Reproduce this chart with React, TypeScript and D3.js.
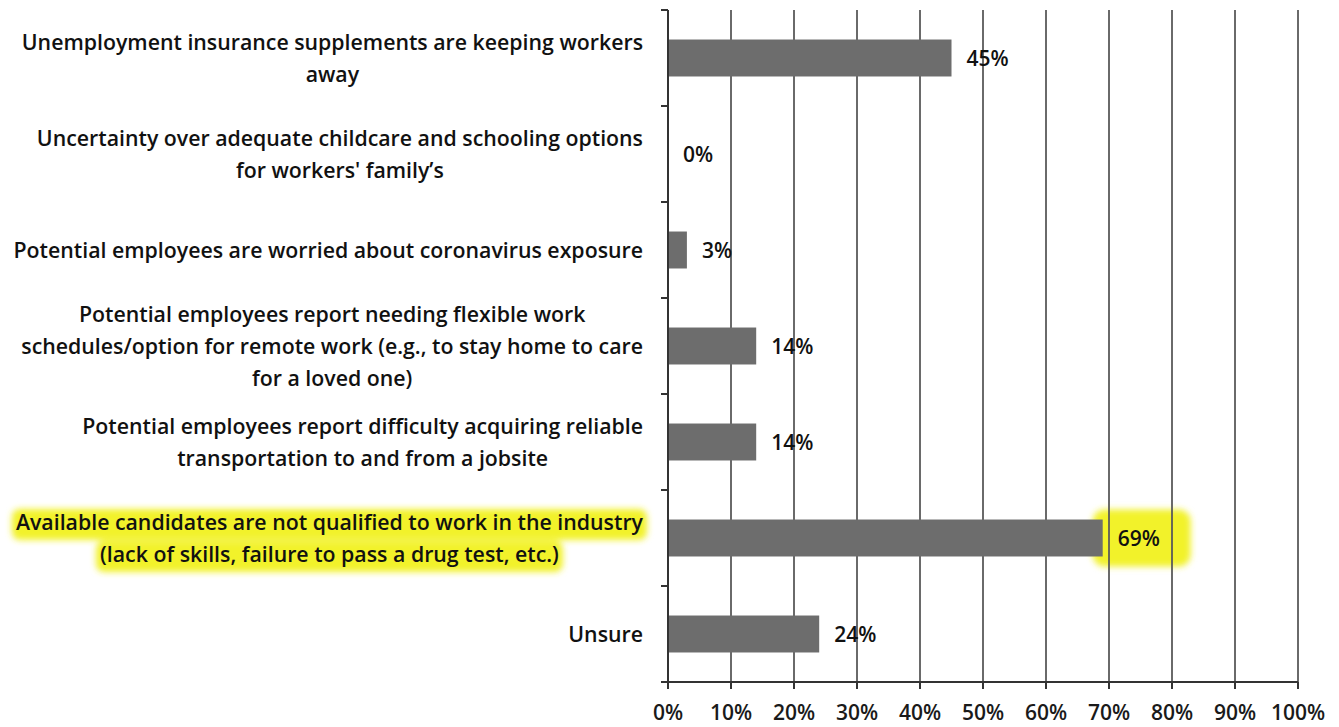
import React, { useMemo } from "react";
import * as d3 from "d3";

const categories: string[][] = [
  ["Unemployment insurance supplements are keeping workers", "away"],
  ["Uncertainty over adequate childcare and schooling options", "for workers' family’s"],
  ["Potential employees are worried about coronavirus exposure"],
  [
    "Potential employees report needing flexible work",
    "schedules/option for remote work (e.g., to stay home to care",
    "for a loved one)",
  ],
  ["Potential employees report difficulty acquiring reliable", "transportation to and from a jobsite"],
  ["Available candidates are not qualified to work in the industry", "(lack of skills, failure to pass a drug test, etc.)"],
  ["Unsure"],
];
const values: number[] = [45, 0, 3, 14, 14, 69, 24];
const xTicks: number[] = [0, 10, 20, 30, 40, 50, 60, 70, 80, 90, 100];
const highlighted: number[] = [5];

const W = 1339;
const H = 727;
const FONT = "'Open Sans', sans-serif";
const LABEL_SIZE = 21.3;
const LABEL_WEIGHT = 600;
const VALUE_SIZE = 21;

function measure(text: string, size: number, weight: number): number {
  const c = document.createElement("canvas");
  const ctx = c.getContext("2d")!;
  ctx.font = `${weight} ${size}px 'Open Sans'`;
  return ctx.measureText(text).width;
}

export default function App() {
  const x = d3.scaleLinear().domain([0, 100]).range([668, 1298]);
  const y = d3
    .scaleBand<number>()
    .domain(d3.range(categories.length))
    .range([10, 682])
    .paddingInner(0.615)
    .paddingOuter(0.3075);
  const band = d3.scaleBand<number>().domain(d3.range(categories.length)).range([10, 682]);
  const labelRight = 643;
  const lineH = 32;
  const dy = 2;

  const widths = useMemo(
    () => categories.map((lines) => lines.map((l) => measure(l, LABEL_SIZE, LABEL_WEIGHT))),
    []
  );

  return (
    <svg width={W} height={H} style={{ display: "block", position: "absolute", left: 0, top: 0, background: "#fff" }}>
      <defs>
        <filter id="hl" x="-10%" y="-50%" width="120%" height="200%">
          <feGaussianBlur stdDeviation="3" />
        </filter>
      </defs>
      <rect x={0} y={0} width={W} height={H} fill="#fff" />
      {/* highlights */}
      {highlighted.map((i) => {
        const lines = categories[i];
        const blockW = Math.max(...widths[i]);
        const cx = labelRight - blockW / 2;
        const cy = band(i)! + band.bandwidth() / 2 + dy;
        const y0 = cy - ((lines.length - 1) * lineH) / 2;
        return (
          <g key={"hl" + i} filter="url(#hl)">
            {lines.map((l, j) => (
              <rect
                key={j}
                x={cx - widths[i][j] / 2 - 4}
                y={y0 + j * lineH - 15}
                width={widths[i][j] + 8}
                height={31}
                rx={8}
                fill="#f2f22c"
              />
            ))}
            <rect x={x(values[i]) - 10} y={y(i)! - 10} width={98} height={y.bandwidth() + 20} rx={12} fill="#f2f22c" />
          </g>
        );
      })}
      {/* gridlines */}
      {xTicks.slice(1).map((t) => (
        <line key={"g" + t} x1={x(t)} x2={x(t)} y1={10} y2={682} stroke="#5a5a5a" strokeWidth={1.8} />
      ))}
      {/* bars */}
      {values.map((v, i) => (
        <rect key={"b" + i} x={x(0)} y={y(i)!} width={x(v) - x(0)} height={y.bandwidth()} fill="#6d6d6d" />
      ))}
      {/* y axis */}
      <line x1={668} x2={668} y1={10} y2={682} stroke="#333" strokeWidth={2} />
      {d3.range(categories.length).map((i) => (
        <line key={"yt" + i} x1={661} x2={668} y1={band(i)!} y2={band(i)!} stroke="#333" strokeWidth={2} />
      ))}
      {/* x axis */}
      <line x1={661} x2={1298} y1={682} y2={682} stroke="#333" strokeWidth={2} />
      {xTicks.map((t) => (
        <g key={"xt" + t}>
          <line x1={x(t)} x2={x(t)} y1={682} y2={689} stroke="#333" strokeWidth={2} />
          <text
            x={x(t)}
            y={714}
            textAnchor="middle"
            dominantBaseline="middle"
            fontFamily={FONT}
            fontWeight={600}
            fontSize={VALUE_SIZE}
            fill="#1a1a1a"
          >
            {t}%
          </text>
        </g>
      ))}
      {/* category labels */}
      {categories.map((lines, i) => {
        const blockW = Math.max(...widths[i]);
        const cx = labelRight - blockW / 2;
        const cy = band(i)! + band.bandwidth() / 2 + dy;
        const y0 = cy - ((lines.length - 1) * lineH) / 2;
        return (
          <text
            key={"c" + i}
            fontFamily={FONT}
            fontWeight={LABEL_WEIGHT}
            fontSize={LABEL_SIZE}
            fill="#111"
            textAnchor="middle"
            dominantBaseline="middle"
          >
            {lines.map((l, j) => (
              <tspan key={j} x={cx} y={y0 + j * lineH}>
                {l}
              </tspan>
            ))}
          </text>
        );
      })}
      {/* value labels */}
      {values.map((v, i) => (
        <text
          key={"v" + i}
          x={x(v) + 15}
          y={band(i)! + band.bandwidth() / 2 + dy}
          dominantBaseline="middle"
          fontFamily={FONT}
          fontWeight={600}
          fontSize={VALUE_SIZE}
          fill="#111"
        >
          {v}%
        </text>
      ))}
    </svg>
  );
}
